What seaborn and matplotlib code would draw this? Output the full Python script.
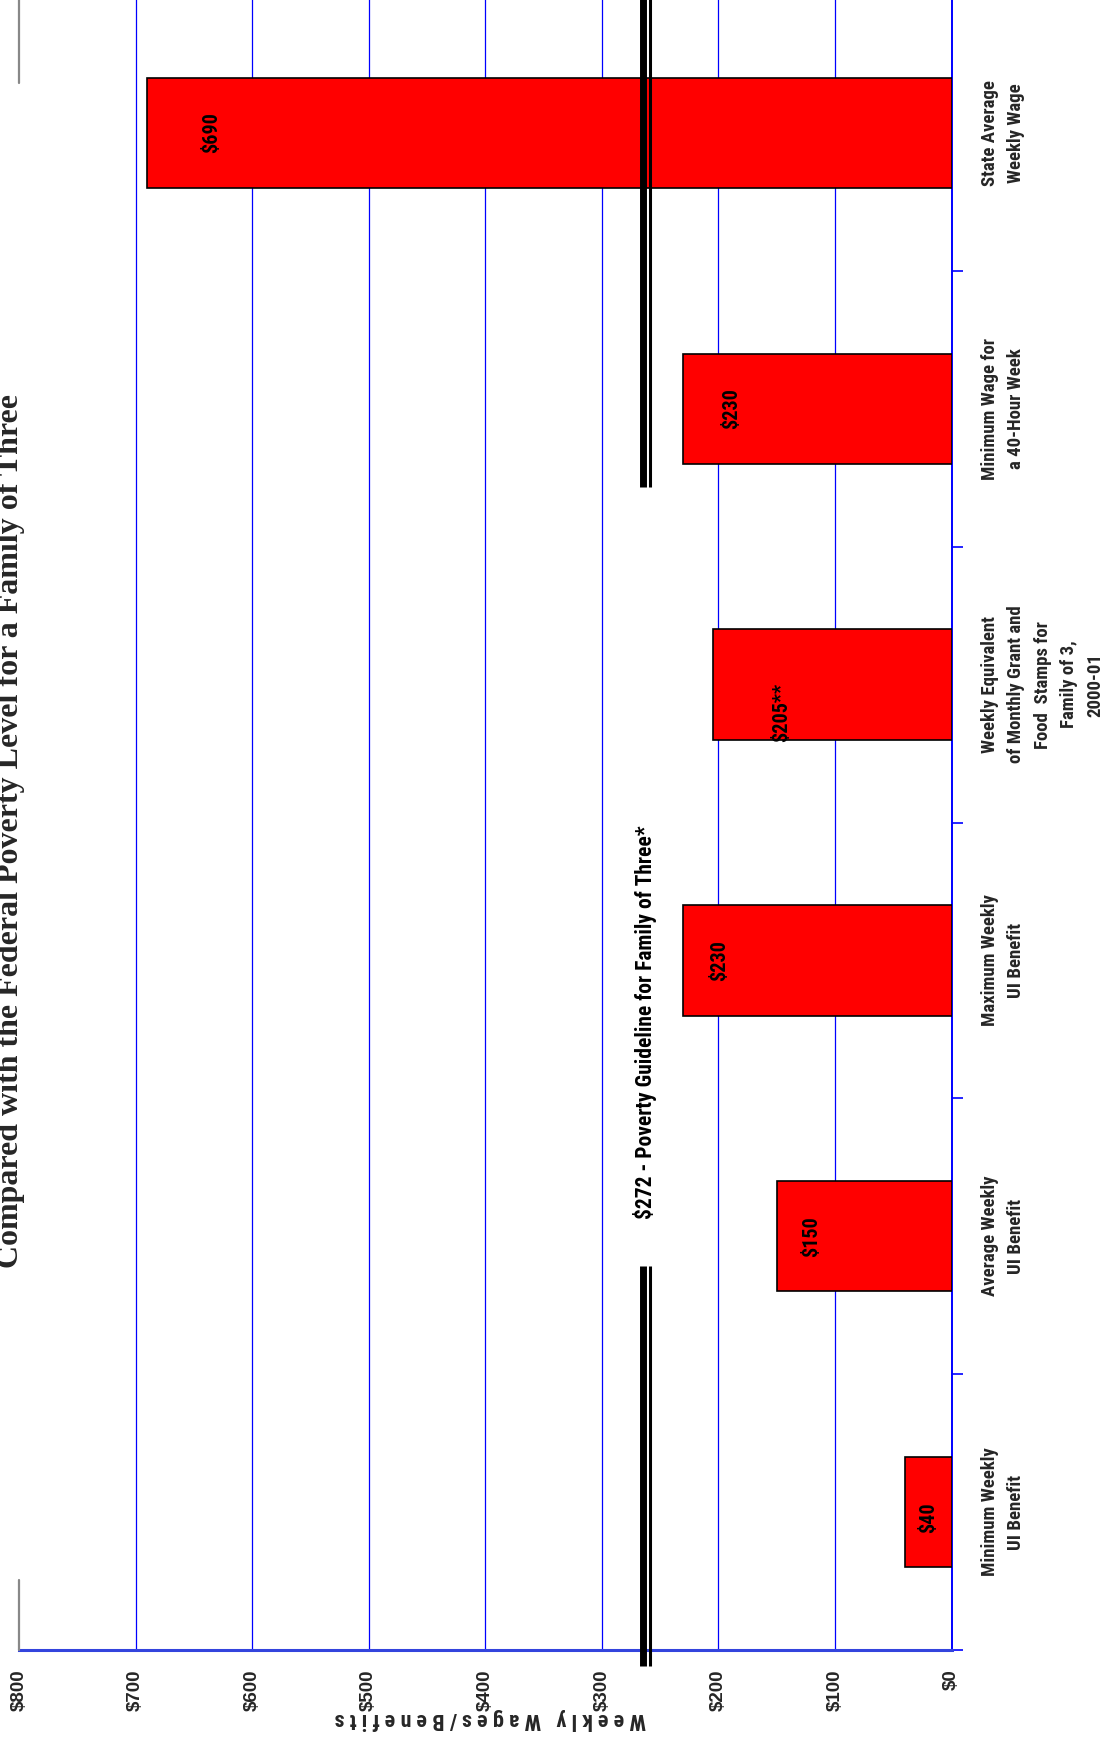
import matplotlib
matplotlib.use("Agg")
import matplotlib.pyplot as plt
import seaborn as sns
import pandas as pd
from matplotlib import font_manager

# ---------------- data ----------------
categories = [
    "State Average\nWeekly Wage",
    "Minimum Wage for\na 40-Hour Week",
    "Weekly Equivalent\nof Monthly Grant and\nFood  Stamps for\nFamily of 3,\n2000-01",
    "Maximum Weekly\nUI Benefit",
    "Average Weekly\nUI Benefit",
    "Minimum Weekly\nUI Benefit",
]
values = [690, 230, 205, 230, 150, 40]
value_labels = ["$690", "$230", "$205**", "$230", "$150", "$40"]
x_ticks = [0, 100, 200, 300, 400, 500, 600, 700, 800]
x_tick_labels = ["$0", "$100", "$200", "$300", "$400", "$500", "$600", "$700", "$800"]
poverty_value_drawn = 263
poverty_label = "$272 - Poverty Guideline for Family of Three*"
title = "Compared with the Federal Poverty Level for a Family of Three"
x_label = "W e e k l y   W a g e s / B e n e f i t s"

# ---------------- styling ----------------
label_inset = [55, 41, 59, 31, 30, 20]      # how far inside the bar end the value label sits
label_ynudge = [0, 0, 0.1, 0, 0, 0.02]

sns.set_style("white")
avail = {f.name for f in font_manager.fontManager.ttflist}
narrow = None
for cand in ["Liberation Sans Narrow", "Roboto Condensed", "Open Sans Condensed",
             "Noto Sans Condensed"]:
    if cand in avail:
        narrow = cand
        break
if narrow is None:
    narrow = "Liberation Sans"
    cat_size, val_size, pov_size, xl_size = 12.0, 13.0, 13.5, 14.5
else:
    cat_size, val_size, pov_size, xl_size = 13.5, 14.5, 15.5, 15.8
plt.rcParams["font.family"] = ["Liberation Sans", "DejaVu Sans"]

W, H, DPI = 1118, 1743, 100
fig = plt.figure(figsize=(W / DPI, H / DPI), dpi=DPI)
fig.patch.set_facecolor("white")

# axes placement in pixels (left, right, top, bottom)
L, R, T, B = 19, 951.6, -5, 1650
ax = fig.add_axes([L / W, 1 - B / H, (R - L) / W, (B - T) / H])

df = pd.DataFrame({"category": categories, "value": values})
sns.barplot(data=df, x="value", y="category", orient="h", order=categories,
            color="#ff0000", saturation=1, edgecolor="black", linewidth=1.2,
            width=0.4, ax=ax, zorder=3)

ax.set_xlim(800, 0)
ax.set_ylim(5.5, -0.5)

# grid lines
for v in x_ticks[1:-1]:
    ax.axvline(v, color="#0000ff", lw=0.9, zorder=1)

# spines
for s in ["top", "left"]:
    ax.spines[s].set_visible(False)
ax.spines["right"].set_color("#0000ff")
ax.spines["right"].set_linewidth(1.4)
ax.spines["bottom"].set_color("#3344dd")
ax.spines["bottom"].set_linewidth(2.2)

# x ticks
ax.set_xticks(x_ticks)
ax.set_xticklabels(x_tick_labels, rotation=90, fontweight="bold", fontsize=13.5,
                   family=["Liberation Sans", "DejaVu Sans"])
ax.tick_params(axis="x", length=5, width=1, color="#0000ff", direction="out", pad=9)

# y ticks (categories) on the right
ax.yaxis.tick_right()
ax.set_yticks(range(len(categories)))
ax.set_yticklabels(categories, rotation=90, fontweight="bold", fontsize=cat_size,
                   family=[narrow, "DejaVu Sans"], linespacing=1.6,
                   multialignment="center")
for t in ax.get_yticklabels():
    t.set_va("center")
    t.set_ha("left")
ax.tick_params(axis="y", which="major", length=0, pad=21)
ax.set_yticks([0.5, 1.5, 2.5, 3.5, 4.5, 5.5], minor=True)
ax.tick_params(axis="y", which="minor", length=8, width=1.2, color="#0000ff",
               direction="out", right=True, left=False)
ax.set_ylabel("")

# x label (upside down, letter spaced)
ax.set_xlabel(x_label, rotation=180, fontweight="bold", fontsize=xl_size,
              family=[narrow, "DejaVu Sans"])
ax.xaxis.set_label_coords((490 - L) / (R - L), -(1719 - B) / (B - T))
ax.xaxis.label.set_va("center")

# value labels inside bars
for i, (v, lab) in enumerate(zip(values, value_labels)):
    ax.text(v - label_inset[i], i + label_ynudge[i], lab, rotation=90,
            ha="center", va="center", fontsize=val_size, fontweight="bold",
            family=[narrow, "DejaVu Sans"], color="black", zorder=5)

# poverty line (double line), broken for its label
def ypix(p):
    return (p - T) / 276.0 - 0.5

for y0, y1 in [(-0.5, ypix(487)), (ypix(1267), ypix(1667))]:
    ax.plot([poverty_value_drawn + 2, poverty_value_drawn + 2], [y0, y1],
            color="black", lw=5.0, solid_capstyle="butt", clip_on=False, zorder=6)
    ax.plot([poverty_value_drawn - 4, poverty_value_drawn - 4], [y0, y1],
            color="black", lw=2.2, solid_capstyle="butt", clip_on=False, zorder=6)
ax.text(poverty_value_drawn, ypix(1023), poverty_label, rotation=90,
        ha="center", va="center", fontsize=pov_size, fontweight="bold",
        family=[narrow, "DejaVu Sans"], color="black", zorder=6)

# partial grey frame lines
for (x, y0, y1) in [(19, 0, 83), (19, 1580, 1650)]:
    fig.add_artist(plt.Line2D([x / W, x / W], [1 - y0 / H, 1 - y1 / H],
                              color="#888888", lw=1.6))

# title (rotated, partly cut at the left edge)
fig.text(18 / W, 1 - 831 / H, title, rotation=90, rotation_mode="anchor",
         ha="center", va="baseline", fontsize=23, fontweight="bold",
         family=["Liberation Serif", "DejaVu Serif"])

fig.savefig("out.png", dpi=DPI, facecolor="white")
